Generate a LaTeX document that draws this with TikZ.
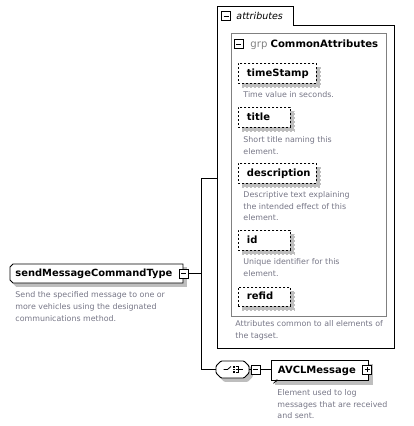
\documentclass[tikz,border=0pt]{standalone}
\usepackage{fontspec}
\setmainfont{DejaVu Sans}
\usetikzlibrary{arrows.meta}
\definecolor{descgray}{RGB}{118,118,134}
\definecolor{shadowgray}{RGB}{190,190,190}
\definecolor{grpgray}{RGB}{128,128,128}
\begin{document}
\begin{tikzpicture}[x=1pt,y=-1pt,line width=0.9pt,
  namefont/.style={font=\fontsize{10}{12}\selectfont\bfseries},
  desc/.style={font=\fontsize{7.9}{11.6}\selectfont, text=descgray, align=left, anchor=north west, inner sep=0pt},
  shadowed/.style={preaction={fill=shadowgray, draw=shadowgray, transform canvas={xshift=3.5pt,yshift=-3.5pt}}},
  attbox/.style={draw, dash pattern=on 2pt off 2pt, fill=white, shadowed, anchor=north west,
    minimum height=20pt, inner xsep=8.5pt, inner ysep=0pt, namefont, text height=8pt, text depth=2pt, align=left},
  minusbox/.style={draw, fill=white, minimum size=9pt, inner sep=0pt, line width=0.7pt,
    path picture={\draw[line width=0.7pt] ([xshift=2pt]path picture bounding box.west) -- ([xshift=-2pt]path picture bounding box.east);}},
  plusbox/.style={minusbox, path picture={\draw[line width=0.7pt] ([xshift=2pt]path picture bounding box.west) -- ([xshift=-2pt]path picture bounding box.east)
      ([yshift=-2pt]path picture bounding box.north) -- ([yshift=2pt]path picture bounding box.south);}},
  conn/.style={line width=0.9pt}
]
\useasboundingbox (0,0) rectangle (413,426);

% root type
\draw[fill=white, shadowed] (13,264) -- (183,264) -- (183,283) -- (13,283) -- (10,280) -- (10,267) -- cycle;
\node[anchor=west, inner sep=0pt, font=\fontsize{9.9}{12}\selectfont\bfseries] (root) at (15,273.5) {sendMessageCommandType};
\node[minusbox] (rootm) at (183.5,273.5) {};
\node[desc] (rootd) at (15,291.5) {Send the specified message to one or\\more vehicles using the designated\\communications method.};

% attributes container
\draw (217,6) -- (293,6) -- (293,25) -- (394,25) -- (394,348) -- (217,348) -- cycle;
\node[minusbox] (attm) at (226,16) {};
\node[anchor=west, inner sep=0pt, font=\fontsize{9.5}{11}\selectfont\itshape] (attt) at (236,16) {attributes};
\coordinate (attL) at (217,178);

% group
\draw[grpgray] (231,33) rectangle (386,316);
\node[minusbox] (grpm) at (238.5,44) {};
\node[anchor=west, inner sep=0pt, font=\fontsize{10.1}{11}\selectfont] (grpt) at (250,44.5) {\textcolor{grpgray}{grp} \textbf{CommonAttributes}};

\node[attbox, text width=61pt] (ts) at (238,63) {timeStamp};
\node[desc] (tsd) at (243,91) {Time value in seconds.};
\node[attbox, text width=35pt] (ti) at (238,107) {title};
\node[desc] (tid) at (243,136) {Short title naming this\\element.};
\node[attbox, text width=61pt] (de) at (238,163) {description};
\node[desc] (ded) at (243,191) {Descriptive text explaining\\the intended effect of this\\element.};
\node[attbox, text width=35pt] (id) at (238,230) {id};
\node[desc] (idd) at (243,258) {Unique identifier for this\\element.};
\node[attbox, text width=35pt, minimum height=19pt] (rf) at (238,287) {refid};
\node[desc] (attd) at (235,320.5) {Attributes common to all elements of\\the tagset.};

% sequence compositor
\draw[fill=white, shadowed, rounded corners=1pt] (221,361) -- (244,361) -- (249,366) -- (249,373) -- (244,378) -- (221,378) -- (216,373) -- (216,366) -- cycle;
\node[minimum width=33pt, minimum height=17pt, inner sep=0pt] (seq) at (232.5,369.5) {};
\draw[line width=0.8pt] ([xshift=-9pt]seq.center) -- ([xshift=-5pt]seq.center) -- ([xshift=-1.5pt,yshift=3pt]seq.center);
\fill ([xshift=0pt,yshift=3.5pt]seq.center) rectangle ([xshift=2pt,yshift=1.8pt]seq.center);
\fill ([xshift=0pt,yshift=0.9pt]seq.center) rectangle ([xshift=2pt,yshift=-0.9pt]seq.center);
\fill ([xshift=0pt,yshift=-1.8pt]seq.center) rectangle ([xshift=2pt,yshift=-3.5pt]seq.center);
\draw[line width=0.7pt] ([xshift=3pt,yshift=3.3pt]seq.center) -- ([xshift=6pt,yshift=3.3pt]seq.center)
  -- ([xshift=6pt,yshift=-3.3pt]seq.center) -- ([xshift=3pt,yshift=-3.3pt]seq.center)
  ([xshift=3pt]seq.center) -- ([xshift=10pt]seq.center);
\node[minusbox] (seqm) at (255.5,369.5) {};

% AVCLMessage
\node[draw, fill=white, shadowed, anchor=north west, minimum width=97pt, minimum height=20pt, inner xsep=6.5pt, inner ysep=0pt,
  namefont, text height=8pt, text depth=2pt, text width=84pt, align=left] (avcl) at (271,360) {AVCLMessage};
\draw[line width=0.8pt, -{Stealth[length=2.5pt,width=2.5pt]}] ([xshift=2.5pt,yshift=-2.5pt]avcl.south west) -- ++(4,-4);
\node[plusbox] (avclp) at (367,369.5) {};
\node[desc] (avcld) at (277,389) {Element used to log\\messages that are received\\and sent.};

% connectors
\coordinate (trunkT) at (201,178);
\coordinate (trunkB) at (201,369.5);
\draw[conn] (rootm.east) -- (rootm.east -| trunkT);
\draw[conn] (trunkT) -- (trunkB);
\draw[conn] (trunkT) -- (attL);
\draw[conn] (trunkB) -- (seq.west);
\draw[conn] (seq.east) -- (seqm.west);
\draw[conn] (seqm.east) -- (avcl.west |- seqm.east);
\end{tikzpicture}
\end{document}
